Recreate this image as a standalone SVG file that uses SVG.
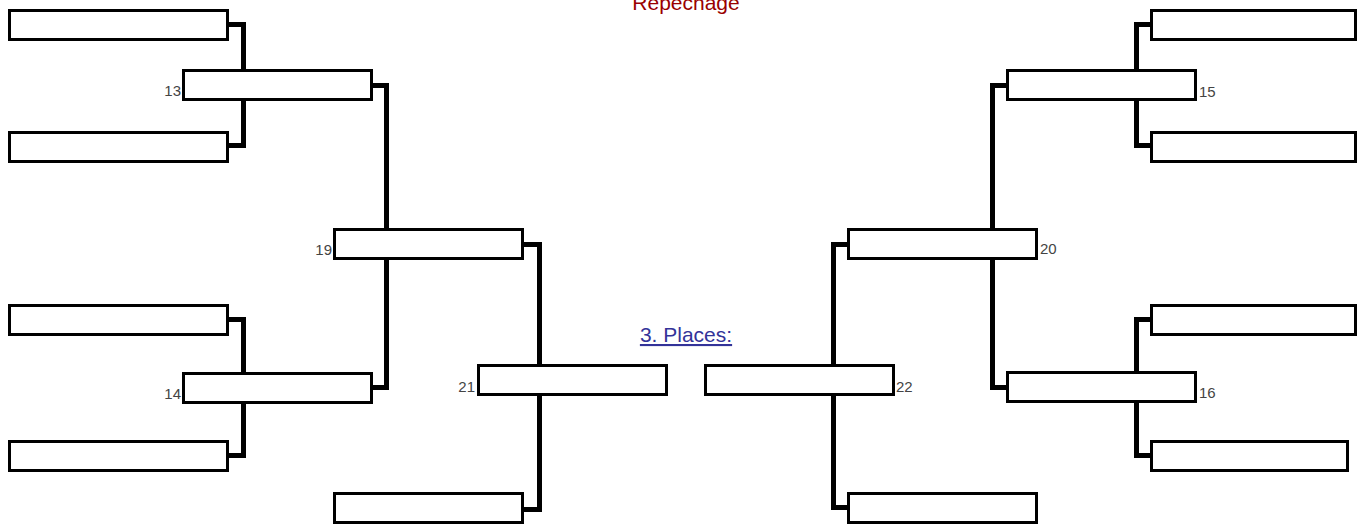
<svg xmlns="http://www.w3.org/2000/svg" width="1364" height="525" viewBox="0 0 1364 525">
<style>
.box{fill:#fff;stroke:#000;stroke-width:3}
.con{fill:none;stroke:#000;stroke-width:5;stroke-linejoin:miter;stroke-linecap:butt}
.num{font-family:"Liberation Sans",Arial,sans-serif;font-size:15px;fill:#444}
.title{font-family:"Liberation Sans",Arial,sans-serif;font-size:21px;text-anchor:middle}
</style>
<rect width="1364" height="525" fill="#fff"/>
<text class="title" x="686" y="10" fill="#990000">Repechage</text>
<text class="title" x="686" y="342" fill="#333399" text-decoration="underline">3. Places:</text>
<g id="connectors">
<path class="con" d="M229 24.5 H243.5 V145.5 H229"/>
<path class="con" d="M229 319.5 H243.5 V455.5 H229"/>
<path class="con" d="M373 85.5 H386.5 V387.5 H373"/>
<path class="con" d="M524 244.5 H539.5 V509.5 H524"/>
<path class="con" d="M1150 24.5 H1136.5 V145.5 H1150"/>
<path class="con" d="M1150 319.5 H1136.5 V455.5 H1150"/>
<path class="con" d="M1006 85.5 H992.5 V387.5 H1006"/>
<path class="con" d="M848 244.5 H833.5 V507.5 H848"/>
</g>
<g id="l1"><rect class="box" x="9.5" y="10.5" width="218" height="29"/></g>
<g id="l2"><rect class="box" x="9.5" y="132.5" width="218" height="29"/></g>
<g id="l3"><rect class="box" x="9.5" y="305.5" width="218" height="29"/></g>
<g id="l4"><rect class="box" x="9.5" y="441.5" width="218" height="29"/></g>
<g id="n13"><rect class="box" x="183.5" y="70.5" width="188" height="29"/><text class="num" x="181" y="96" text-anchor="end">13</text></g>
<g id="n14"><rect class="box" x="183.5" y="373.5" width="188" height="29"/><text class="num" x="181" y="399" text-anchor="end">14</text></g>
<g id="n19"><rect class="box" x="334.5" y="229.5" width="188" height="29"/><text class="num" x="332" y="255" text-anchor="end">19</text></g>
<g id="n21"><rect class="box" x="478.5" y="365.5" width="188" height="29"/><text class="num" x="475" y="392" text-anchor="end">21</text></g>
<g id="lb"><rect class="box" x="334.5" y="493.5" width="188" height="29"/></g>
<g id="n22"><rect class="box" x="705.5" y="365.5" width="188" height="29"/><text class="num" x="896" y="392">22</text></g>
<g id="rb"><rect class="box" x="848.5" y="493.5" width="188" height="29"/></g>
<g id="n20"><rect class="box" x="848.5" y="229.5" width="188" height="29"/><text class="num" x="1040" y="254">20</text></g>
<g id="n15"><rect class="box" x="1007.5" y="70.5" width="188" height="29"/><text class="num" x="1199" y="97">15</text></g>
<g id="n16"><rect class="box" x="1007.5" y="372.5" width="188" height="29"/><text class="num" x="1199" y="398">16</text></g>
<g id="r1"><rect class="box" x="1151.5" y="10.5" width="204" height="29"/></g>
<g id="r2"><rect class="box" x="1151.5" y="132.5" width="204" height="29"/></g>
<g id="r3"><rect class="box" x="1151.5" y="305.5" width="204" height="29"/></g>
<g id="r4"><rect class="box" x="1151.5" y="441.5" width="196" height="29"/></g>
</svg>
